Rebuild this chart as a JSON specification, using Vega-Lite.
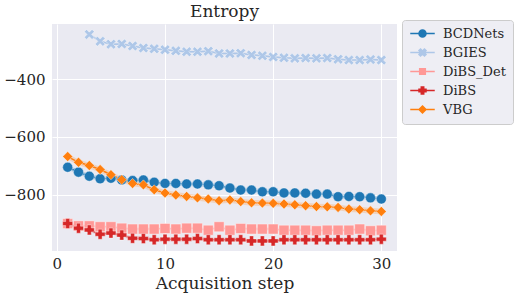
{
  "$schema": "https://vega.github.io/schema/vega-lite/v6.json",
  "width": 345,
  "height": 227,
  "autosize": {"type": "none"},
  "padding": {"left": 52, "top": 24, "right": 118, "bottom": 44},
  "background": "white",
  "title": {"text": "Entropy", "font": "DejaVu Serif", "fontSize": 17, "fontWeight": "normal", "color": "#262626", "offset": -1},
  "config": {
    "view": {"fill": "#EAEAF2", "stroke": null},
    "axis": {"domain": false, "ticks": false, "grid": true, "gridColor": "white", "gridWidth": 1, "labelFont": "DejaVu Serif", "labelFontSize": 15, "labelColor": "#262626", "titleFont": "DejaVu Serif", "titleFontSize": 17, "titleFontWeight": "normal", "titleColor": "#262626"}
  },
  "data": {"values": [
    {"method":"BCDNets","step":1,"y":-705,"lo":-713,"hi":-697},
    {"method":"BCDNets","step":2,"y":-722,"lo":-730,"hi":-714},
    {"method":"BCDNets","step":3,"y":-736,"lo":-744,"hi":-728},
    {"method":"BCDNets","step":4,"y":-745,"lo":-753,"hi":-737},
    {"method":"BCDNets","step":5,"y":-743,"lo":-751,"hi":-735},
    {"method":"BCDNets","step":6,"y":-749,"lo":-757,"hi":-741},
    {"method":"BCDNets","step":7,"y":-751,"lo":-759,"hi":-743},
    {"method":"BCDNets","step":8,"y":-749,"lo":-757,"hi":-741},
    {"method":"BCDNets","step":9,"y":-757,"lo":-765,"hi":-749},
    {"method":"BCDNets","step":10,"y":-761,"lo":-769,"hi":-753},
    {"method":"BCDNets","step":11,"y":-761,"lo":-769,"hi":-753},
    {"method":"BCDNets","step":12,"y":-763,"lo":-771,"hi":-755},
    {"method":"BCDNets","step":13,"y":-763,"lo":-771,"hi":-755},
    {"method":"BCDNets","step":14,"y":-766,"lo":-774,"hi":-758},
    {"method":"BCDNets","step":15,"y":-769,"lo":-777,"hi":-761},
    {"method":"BCDNets","step":16,"y":-777,"lo":-785,"hi":-769},
    {"method":"BCDNets","step":17,"y":-784,"lo":-792,"hi":-776},
    {"method":"BCDNets","step":18,"y":-784,"lo":-792,"hi":-776},
    {"method":"BCDNets","step":19,"y":-790,"lo":-798,"hi":-782},
    {"method":"BCDNets","step":20,"y":-790,"lo":-798,"hi":-782},
    {"method":"BCDNets","step":21,"y":-794,"lo":-802,"hi":-786},
    {"method":"BCDNets","step":22,"y":-794,"lo":-802,"hi":-786},
    {"method":"BCDNets","step":23,"y":-795,"lo":-803,"hi":-787},
    {"method":"BCDNets","step":24,"y":-798,"lo":-806,"hi":-790},
    {"method":"BCDNets","step":25,"y":-798,"lo":-806,"hi":-790},
    {"method":"BCDNets","step":26,"y":-807,"lo":-815,"hi":-799},
    {"method":"BCDNets","step":27,"y":-806,"lo":-814,"hi":-798},
    {"method":"BCDNets","step":28,"y":-807,"lo":-815,"hi":-799},
    {"method":"BCDNets","step":29,"y":-811,"lo":-819,"hi":-803},
    {"method":"BCDNets","step":30,"y":-815,"lo":-823,"hi":-807},
    {"method":"BGIES","step":3,"y":-245,"lo":-249,"hi":-241},
    {"method":"BGIES","step":4,"y":-269,"lo":-273,"hi":-265},
    {"method":"BGIES","step":5,"y":-279,"lo":-283,"hi":-275},
    {"method":"BGIES","step":6,"y":-278,"lo":-282,"hi":-274},
    {"method":"BGIES","step":7,"y":-285,"lo":-289,"hi":-281},
    {"method":"BGIES","step":8,"y":-292,"lo":-296,"hi":-288},
    {"method":"BGIES","step":9,"y":-295,"lo":-299,"hi":-291},
    {"method":"BGIES","step":10,"y":-298,"lo":-302,"hi":-294},
    {"method":"BGIES","step":11,"y":-302,"lo":-306,"hi":-298},
    {"method":"BGIES","step":12,"y":-305,"lo":-309,"hi":-301},
    {"method":"BGIES","step":13,"y":-305,"lo":-309,"hi":-301},
    {"method":"BGIES","step":14,"y":-303,"lo":-307,"hi":-299},
    {"method":"BGIES","step":15,"y":-311,"lo":-315,"hi":-307},
    {"method":"BGIES","step":16,"y":-311,"lo":-315,"hi":-307},
    {"method":"BGIES","step":17,"y":-310,"lo":-314,"hi":-306},
    {"method":"BGIES","step":18,"y":-316,"lo":-320,"hi":-312},
    {"method":"BGIES","step":19,"y":-319,"lo":-323,"hi":-315},
    {"method":"BGIES","step":20,"y":-323,"lo":-327,"hi":-319},
    {"method":"BGIES","step":21,"y":-326,"lo":-330,"hi":-322},
    {"method":"BGIES","step":22,"y":-328,"lo":-332,"hi":-324},
    {"method":"BGIES","step":23,"y":-327,"lo":-331,"hi":-323},
    {"method":"BGIES","step":24,"y":-328,"lo":-332,"hi":-324},
    {"method":"BGIES","step":25,"y":-327,"lo":-331,"hi":-323},
    {"method":"BGIES","step":26,"y":-331,"lo":-335,"hi":-327},
    {"method":"BGIES","step":27,"y":-334,"lo":-338,"hi":-330},
    {"method":"BGIES","step":28,"y":-334,"lo":-338,"hi":-330},
    {"method":"BGIES","step":29,"y":-332,"lo":-336,"hi":-328},
    {"method":"BGIES","step":30,"y":-334,"lo":-338,"hi":-330},
    {"method":"DiBS_Det","step":1,"y":-900,"lo":-907,"hi":-893},
    {"method":"DiBS_Det","step":2,"y":-908,"lo":-915,"hi":-901},
    {"method":"DiBS_Det","step":3,"y":-908,"lo":-915,"hi":-901},
    {"method":"DiBS_Det","step":4,"y":-911,"lo":-918,"hi":-904},
    {"method":"DiBS_Det","step":5,"y":-911,"lo":-918,"hi":-904},
    {"method":"DiBS_Det","step":6,"y":-916,"lo":-923,"hi":-909},
    {"method":"DiBS_Det","step":7,"y":-919,"lo":-926,"hi":-912},
    {"method":"DiBS_Det","step":8,"y":-919,"lo":-926,"hi":-912},
    {"method":"DiBS_Det","step":9,"y":-919,"lo":-926,"hi":-912},
    {"method":"DiBS_Det","step":10,"y":-917,"lo":-924,"hi":-910},
    {"method":"DiBS_Det","step":11,"y":-919,"lo":-926,"hi":-912},
    {"method":"DiBS_Det","step":12,"y":-916,"lo":-923,"hi":-909},
    {"method":"DiBS_Det","step":13,"y":-916,"lo":-923,"hi":-909},
    {"method":"DiBS_Det","step":14,"y":-923,"lo":-930,"hi":-916},
    {"method":"DiBS_Det","step":15,"y":-911,"lo":-918,"hi":-904},
    {"method":"DiBS_Det","step":16,"y":-923,"lo":-930,"hi":-916},
    {"method":"DiBS_Det","step":17,"y":-917,"lo":-924,"hi":-910},
    {"method":"DiBS_Det","step":18,"y":-919,"lo":-926,"hi":-912},
    {"method":"DiBS_Det","step":19,"y":-919,"lo":-926,"hi":-912},
    {"method":"DiBS_Det","step":20,"y":-919,"lo":-926,"hi":-912},
    {"method":"DiBS_Det","step":21,"y":-923,"lo":-930,"hi":-916},
    {"method":"DiBS_Det","step":22,"y":-923,"lo":-930,"hi":-916},
    {"method":"DiBS_Det","step":23,"y":-923,"lo":-930,"hi":-916},
    {"method":"DiBS_Det","step":24,"y":-925,"lo":-932,"hi":-918},
    {"method":"DiBS_Det","step":25,"y":-923,"lo":-930,"hi":-916},
    {"method":"DiBS_Det","step":26,"y":-923,"lo":-930,"hi":-916},
    {"method":"DiBS_Det","step":27,"y":-923,"lo":-930,"hi":-916},
    {"method":"DiBS_Det","step":28,"y":-919,"lo":-926,"hi":-912},
    {"method":"DiBS_Det","step":29,"y":-925,"lo":-932,"hi":-918},
    {"method":"DiBS_Det","step":30,"y":-923,"lo":-930,"hi":-916},
    {"method":"DiBS","step":1,"y":-900,"lo":-906,"hi":-894},
    {"method":"DiBS","step":2,"y":-916,"lo":-922,"hi":-910},
    {"method":"DiBS","step":3,"y":-922,"lo":-928,"hi":-916},
    {"method":"DiBS","step":4,"y":-937,"lo":-943,"hi":-931},
    {"method":"DiBS","step":5,"y":-933,"lo":-939,"hi":-927},
    {"method":"DiBS","step":6,"y":-940,"lo":-946,"hi":-934},
    {"method":"DiBS","step":7,"y":-951,"lo":-957,"hi":-945},
    {"method":"DiBS","step":8,"y":-952,"lo":-958,"hi":-946},
    {"method":"DiBS","step":9,"y":-956,"lo":-962,"hi":-950},
    {"method":"DiBS","step":10,"y":-954,"lo":-960,"hi":-948},
    {"method":"DiBS","step":11,"y":-954,"lo":-960,"hi":-948},
    {"method":"DiBS","step":12,"y":-954,"lo":-960,"hi":-948},
    {"method":"DiBS","step":13,"y":-952,"lo":-958,"hi":-946},
    {"method":"DiBS","step":14,"y":-956,"lo":-962,"hi":-950},
    {"method":"DiBS","step":15,"y":-956,"lo":-962,"hi":-950},
    {"method":"DiBS","step":16,"y":-956,"lo":-962,"hi":-950},
    {"method":"DiBS","step":17,"y":-956,"lo":-962,"hi":-950},
    {"method":"DiBS","step":18,"y":-960,"lo":-966,"hi":-954},
    {"method":"DiBS","step":19,"y":-960,"lo":-966,"hi":-954},
    {"method":"DiBS","step":20,"y":-960,"lo":-966,"hi":-954},
    {"method":"DiBS","step":21,"y":-956,"lo":-962,"hi":-950},
    {"method":"DiBS","step":22,"y":-956,"lo":-962,"hi":-950},
    {"method":"DiBS","step":23,"y":-956,"lo":-962,"hi":-950},
    {"method":"DiBS","step":24,"y":-956,"lo":-962,"hi":-950},
    {"method":"DiBS","step":25,"y":-956,"lo":-962,"hi":-950},
    {"method":"DiBS","step":26,"y":-956,"lo":-962,"hi":-950},
    {"method":"DiBS","step":27,"y":-956,"lo":-962,"hi":-950},
    {"method":"DiBS","step":28,"y":-956,"lo":-962,"hi":-950},
    {"method":"DiBS","step":29,"y":-956,"lo":-962,"hi":-950},
    {"method":"DiBS","step":30,"y":-954,"lo":-960,"hi":-948},
    {"method":"VBG","step":1,"y":-668,"lo":-678,"hi":-658},
    {"method":"VBG","step":2,"y":-688,"lo":-698,"hi":-678},
    {"method":"VBG","step":3,"y":-699,"lo":-709,"hi":-689},
    {"method":"VBG","step":4,"y":-713,"lo":-723,"hi":-703},
    {"method":"VBG","step":5,"y":-731,"lo":-741,"hi":-721},
    {"method":"VBG","step":6,"y":-748,"lo":-758,"hi":-738},
    {"method":"VBG","step":7,"y":-761,"lo":-771,"hi":-751},
    {"method":"VBG","step":8,"y":-766,"lo":-776,"hi":-756},
    {"method":"VBG","step":9,"y":-783,"lo":-793,"hi":-773},
    {"method":"VBG","step":10,"y":-794,"lo":-804,"hi":-784},
    {"method":"VBG","step":11,"y":-801,"lo":-811,"hi":-791},
    {"method":"VBG","step":12,"y":-806,"lo":-816,"hi":-796},
    {"method":"VBG","step":13,"y":-811,"lo":-821,"hi":-801},
    {"method":"VBG","step":14,"y":-815,"lo":-825,"hi":-805},
    {"method":"VBG","step":15,"y":-821,"lo":-831,"hi":-811},
    {"method":"VBG","step":16,"y":-818,"lo":-828,"hi":-808},
    {"method":"VBG","step":17,"y":-824,"lo":-834,"hi":-814},
    {"method":"VBG","step":18,"y":-828,"lo":-838,"hi":-818},
    {"method":"VBG","step":19,"y":-829,"lo":-839,"hi":-819},
    {"method":"VBG","step":20,"y":-830,"lo":-840,"hi":-820},
    {"method":"VBG","step":21,"y":-832,"lo":-842,"hi":-822},
    {"method":"VBG","step":22,"y":-835,"lo":-845,"hi":-825},
    {"method":"VBG","step":23,"y":-838,"lo":-848,"hi":-828},
    {"method":"VBG","step":24,"y":-841,"lo":-851,"hi":-831},
    {"method":"VBG","step":25,"y":-842,"lo":-852,"hi":-832},
    {"method":"VBG","step":26,"y":-844,"lo":-854,"hi":-834},
    {"method":"VBG","step":27,"y":-850,"lo":-860,"hi":-840},
    {"method":"VBG","step":28,"y":-852,"lo":-862,"hi":-842},
    {"method":"VBG","step":29,"y":-856,"lo":-866,"hi":-846},
    {"method":"VBG","step":30,"y":-858,"lo":-868,"hi":-848}
  ]},
  "encoding": {
    "x": {"field": "step", "type": "quantitative", "scale": {"domain": [-0.45, 31.45], "nice": false, "zero": false},
      "axis": {"values": [0, 10, 20, 30], "title": "Acquisition step", "labelPadding": 5, "titlePadding": 4, "labelFlush": false}},
    "color": {"field": "method", "type": "nominal", "legend": null,
      "scale": {"domain": ["BCDNets", "BGIES", "DiBS_Det", "DiBS", "VBG"], "range": ["#1f77b4", "#aec7e8", "#ff9896", "#d62728", "#ff7f0e"]}}
  },
  "layer": [
    {
      "mark": {"type": "area", "opacity": 0.22},
      "encoding": {
        "y": {"field": "lo", "type": "quantitative", "scale": {"domain": [-995, -209], "nice": false, "zero": false},
          "axis": {"values": [-400, -600, -800], "title": null, "labelPadding": 7, "labelExpr": "replace(datum.label, '-', '\u2212')"}},
        "y2": {"field": "hi"}
      }
    },
    {
      "mark": {"type": "line", "strokeWidth": 1.5},
      "encoding": {
        "y": {"field": "y", "type": "quantitative"}
      }
    },
    {
      "mark": {"type": "point", "filled": true, "opacity": 1, "size": 100, "stroke": "white", "strokeWidth": 0.4},
      "encoding": {
        "y": {"field": "y", "type": "quantitative"},
        "shape": {"field": "method", "type": "nominal", "legend": null,
          "scale": {"domain": ["BCDNets", "BGIES", "DiBS_Det", "DiBS", "VBG"],
            "range": ["circle", "M-0.55,-1L0,-0.45L0.55,-1L1,-0.55L0.45,0L1,0.55L0.55,1L0,0.45L-0.55,1L-1,0.55L-0.45,0L-1,-0.55Z", "square", "cross", "diamond"]}}
      }
    },
    {
      "transform": [{"filter": "datum.step < 0"}],
      "mark": {"type": "point", "filled": true, "opacity": 1, "strokeWidth": 1.5},
      "encoding": {
        "y": {"field": "y", "type": "quantitative"},
        "color": {"field": "method", "type": "nominal",
          "scale": {"domain": ["BCDNets", "BGIES", "DiBS_Det", "DiBS", "VBG"], "range": ["#1f77b4", "#aec7e8", "#ff9896", "#d62728", "#ff7f0e"]},
          "legend": {
            "title": null, "orient": "none", "legendX": 350, "legendY": -4,
            "labelFont": "DejaVu Serif", "labelFontSize": 13, "labelColor": "#262626",
            "symbolSize": 49, "symbolStrokeWidth": 1.5, "rowPadding": 5,
            "padding": 7, "symbolOffset": 7, "labelOffset": 14,
            "fillColor": "#EEEEF4", "strokeColor": "#CCCCCC", "cornerRadius": 3
          }},
        "stroke": {"field": "method", "type": "nominal", "legend": {"title": null},
          "scale": {"domain": ["BCDNets", "BGIES", "DiBS_Det", "DiBS", "VBG"], "range": ["#1f77b4", "#aec7e8", "#ff9896", "#d62728", "#ff7f0e"]}},
        "shape": {"field": "method", "type": "nominal", "legend": {"title": null},
          "scale": {"domain": ["BCDNets", "BGIES", "DiBS_Det", "DiBS", "VBG"],
            "range": ["M-3.5,0H3.5M-1,0A1,1 0 1,0 1,0A1,1 0 1,0 -1,0Z", "M-3.5,0H3.5M-0.55,-1L0,-0.45L0.55,-1L1,-0.55L0.45,0L1,0.55L0.55,1L0,0.45L-0.55,1L-1,0.55L-0.45,0L-1,-0.55Z", "M-3.5,0H3.5M-0.8,-0.8H0.8V0.8H-0.8Z", "M-3.5,0H3.5M-0.35,-1H0.35V-0.35H1V0.35H0.35V1H-0.35V0.35H-1V-0.35H-0.35Z", "M-3.5,0H3.5M0,-1L1,0L0,1L-1,0Z"]}}
      }
    }
  ],
  "resolve": {"scale": {"color": "independent", "shape": "independent", "stroke": "independent"}}
}
